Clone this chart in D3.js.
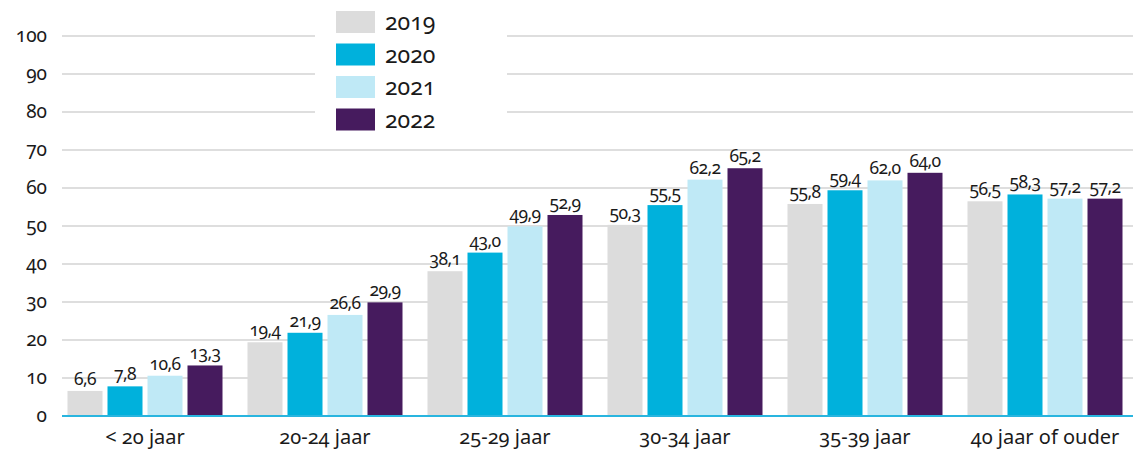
<!DOCTYPE html>
<html>
<head>
<style>
  body { margin: 0; background: #fff; font-family: "Noto Sans", "Open Sans", sans-serif; }
  svg text { font-variant-numeric: oldstyle-nums; font-feature-settings: "onum" 1; fill: #1a1a1a; }
  .grid line { stroke: #dedede; stroke-width: 2; }
  .y-axis text { font-size: 19px; text-anchor: end; }
  .x-axis text { font-size: 20px; }
  .val { font-size: 17.5px; text-anchor: middle; letter-spacing: -0.6px; }
  .legend text { font-size: 23px; }
</style>
</head>
<body>
<script src="https://d3js.org/d3.v7.min.js"></script>
<script>
const categories = ['< 20 jaar', '20-24 jaar', '25-29 jaar', '30-34 jaar', '35-39 jaar', '40 jaar of ouder'];
const years = ['2019', '2020', '2021', '2022'];
const v2019 = [6.6, 19.4, 38.1, 50.3, 55.8, 56.5];
const v2020 = [7.8, 21.9, 43.0, 55.5, 59.4, 58.3];
const v2021 = [10.6, 26.6, 49.9, 62.2, 62.0, 57.2];
const v2022 = [13.3, 29.9, 52.9, 65.2, 64.0, 57.2];
const yTicks = [0, 10, 20, 30, 40, 50, 60, 70, 80, 90, 100];
const colors = ['#dcdcdc', '#00b1dc', '#bfe9f6', '#461b5e'];

const series = [v2019, v2020, v2021, v2022];
const width = 1133, height = 449;

const svg = d3.select('body').append('svg')
  .attr('width', width)
  .attr('height', height);

const y = d3.scaleLinear().domain([0, 100]).range([416, 36]);
const x0 = d3.scaleBand().domain(categories).range([55, 1135]);
const x1 = d3.scaleBand().domain(years).range([12.5, 167.5]).paddingInner(0.125);

// gridlines
svg.append('g').attr('class', 'grid')
  .selectAll('line')
  .data(yTicks.filter(d => d > 0))
  .join('line')
  .attr('x1', 62).attr('x2', 1133)
  .attr('y1', d => y(d)).attr('y2', d => y(d));

// y labels
svg.append('g').attr('class', 'y-axis')
  .selectAll('text')
  .data(yTicks)
  .join('text')
  .attr('x', 47)
  .attr('y', d => y(d) + 6)
  .text(d => d);

// bars
const groups = svg.append('g')
  .selectAll('g')
  .data(categories)
  .join('g')
  .attr('transform', d => 'translate(' + x0(d) + ',0)');

groups.each(function(cat, ci) {
  const g = d3.select(this);
  const rows = years.map((yr, si) => ({ yr: yr, v: series[si][ci], c: colors[si] }));
  g.selectAll('rect')
    .data(rows)
    .join('rect')
    .attr('x', d => x1(d.yr))
    .attr('y', d => y(d.v))
    .attr('width', x1.bandwidth())
    .attr('height', d => y(0) - y(d.v))
    .attr('fill', d => d.c);
  g.selectAll('text')
    .data(rows)
    .join('text')
    .attr('class', 'val')
    .attr('x', d => x1(d.yr) + x1.bandwidth() / 2)
    .attr('y', d => y(d.v) - 6)
    .text(d => d3.format('.1f')(d.v).replace('.', ','));
});

// baseline
svg.append('line')
  .attr('x1', 62).attr('x2', 1133)
  .attr('y1', y(0)).attr('y2', y(0))
  .attr('stroke', '#29b5df').attr('stroke-width', 2);

// x labels
svg.append('g').attr('class', 'x-axis')
  .selectAll('text')
  .data(categories)
  .join('text')
  .attr('x', d => x0(d) + x0.bandwidth() / 2)
  .attr('y', 444)
  .attr('text-anchor', 'middle')
  .text(d => d);

// legend
const legend = svg.append('g').attr('class', 'legend');
legend.append('rect')
  .attr('x', 315).attr('y', 0).attr('width', 192).attr('height', 140)
  .attr('fill', '#fff');
const items = legend.selectAll('g.item')
  .data(years)
  .join('g')
  .attr('class', 'item')
  .attr('transform', (d, i) => 'translate(336,' + (11 + i * 32.5) + ')');
items.append('rect')
  .attr('width', 39).attr('height', 22)
  .attr('fill', (d, i) => colors[i]);
items.append('text')
  .attr('x', 49).attr('y', 19)
  .text(d => d);
</script>
</body>
</html>
